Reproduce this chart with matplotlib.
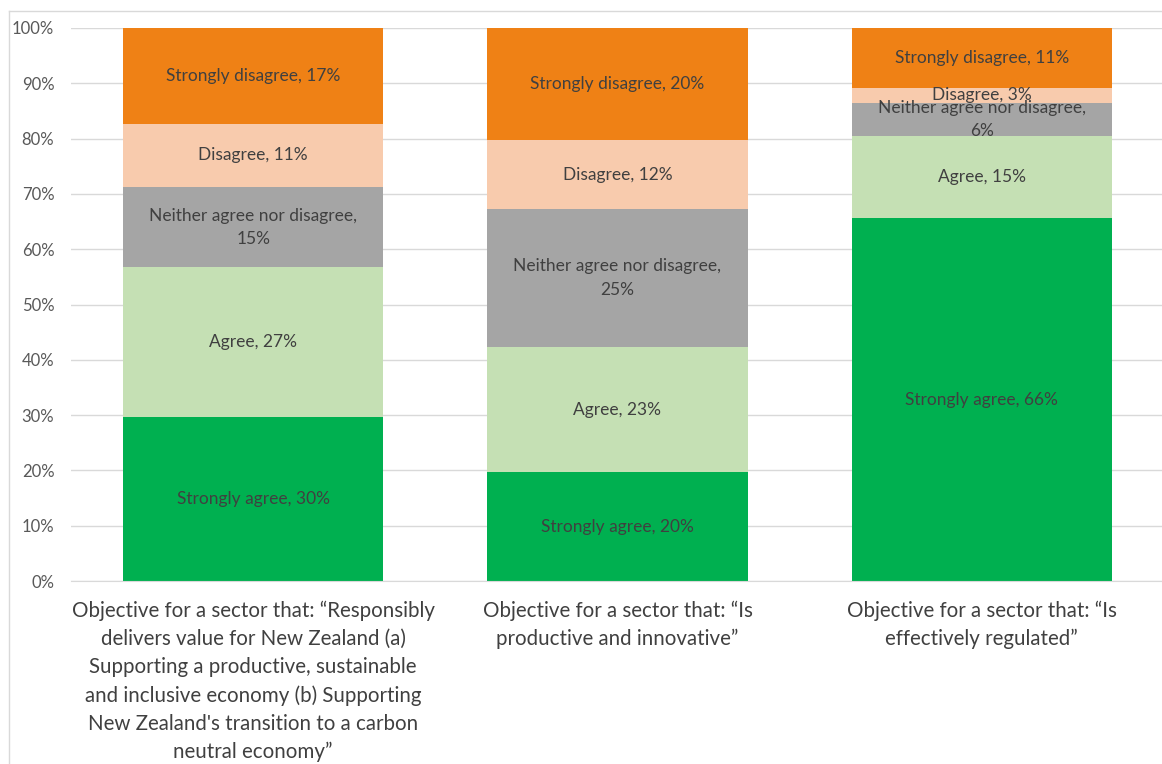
import matplotlib
matplotlib.use("Agg")
import matplotlib.pyplot as plt
from matplotlib.lines import Line2D
import numpy as np

# survey responses, % of respondents
categories = [
    "Objective for a sector that: \u201cResponsibly\ndelivers value for New Zealand (a)\nSupporting a productive, sustainable\nand inclusive economy (b) Supporting\nNew Zealand's transition to a carbon\nneutral economy\u201d",
    "Objective for a sector that: \u201cIs\nproductive and innovative\u201d",
    "Objective for a sector that: \u201cIs\neffectively regulated\u201d",
]
series_names = ["Strongly agree", "Agree", "Neither agree nor disagree",
                "Disagree", "Strongly disagree"]
strongly_agree = [29.7, 19.7, 65.6]
agree = [27.0, 22.6, 14.9]
neither = [14.6, 25.0, 6.0]
disagree = [11.4, 12.4, 2.7]
strongly_disagree = [17.3, 20.3, 10.8]
yticks = [0, 10, 20, 30, 40, 50, 60, 70, 80, 90, 100]

colors = ["#00B050", "#C5E0B4", "#A5A5A5", "#F8CBAD", "#EF8115"]

plt.rcParams['font.family'] = ['Lato', 'DejaVu Sans']

fig = plt.figure(figsize=(11.62, 7.64), dpi=100)
ax = fig.add_axes([71 / 1162, 1 - 581 / 764, 1093 / 1162, 553 / 764])

x = np.arange(len(categories))
bottom = np.zeros(len(categories))
for name, vals, col in zip(series_names,
                           [strongly_agree, agree, neither, disagree, strongly_disagree],
                           colors):
    vals = np.array(vals)
    ax.bar(x, vals, width=0.714, bottom=bottom, color=col, zorder=2)
    for xi, b, v in zip(x, bottom, vals):
        if name.startswith("Neither"):
            txt = f"{name},\n{round(v)}%"
        else:
            txt = f"{name}, {round(v)}%"
        ax.text(xi, b + v / 2, txt, ha="center", va="center",
                fontsize=12.5, color="#404040", zorder=3, linespacing=1.55)
    bottom += vals

ax.set_xlim(-0.5, 2.5)
ax.set_ylim(0, 100)
ax.set_yticks(yticks)
ax.set_yticklabels([f"{t}%" for t in yticks], fontsize=12, color="#595959")
ax.yaxis.grid(True, color="#D9D9D9", linewidth=1, zorder=0)
ax.set_xticks(x)
ax.set_xticklabels(categories, fontsize=14.8, color="#404040", linespacing=1.5, va="top")
ax.tick_params(axis="both", length=0)
ax.tick_params(axis="x", pad=14)
ax.tick_params(axis="y", pad=12)
for s in ["top", "right", "left"]:
    ax.spines[s].set_visible(False)
ax.spines["bottom"].set_color("#D9D9D9")

# chart area border
fig.add_artist(Line2D([9 / 1162, 9 / 1162], [0, 1 - 11 / 764], transform=fig.transFigure,
                      color="#D9D9D9", linewidth=1))
fig.add_artist(Line2D([9 / 1162, 1], [1 - 11 / 764, 1 - 11 / 764], transform=fig.transFigure,
                      color="#D9D9D9", linewidth=1))

fig.savefig("out.png", dpi=100)
